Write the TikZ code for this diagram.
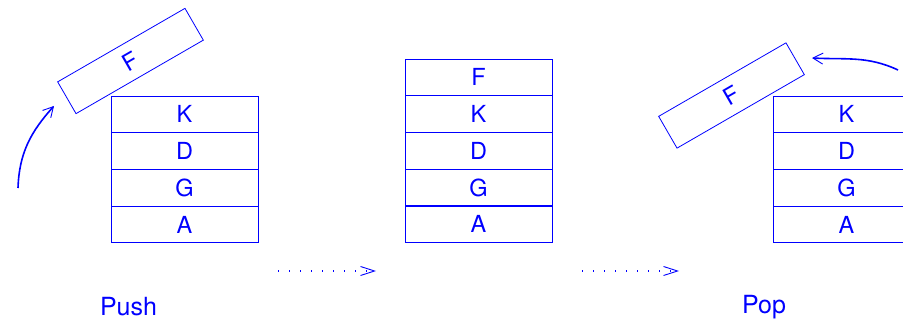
\documentclass[tikz,border=0pt]{standalone}
\usepackage{fontspec}
\setmainfont{TeX Gyre Heros}
\usetikzlibrary{arrows.meta}
\begin{document}
\begin{tikzpicture}[x=1pt,y=1pt,
  cell/.style={draw=blue,line width=0.9pt,minimum width=147pt,minimum height=36.7pt,inner sep=0pt,text=blue,font=\fontsize{23.5}{26}\selectfont},
  tilt/.style={cell,rotate=30,line width=0.8pt},
  bendarrow/.style={draw=blue,line width=1.6pt,-{Straight Barb[length=10pt,width=11pt,line width=0.9pt]}},
  dotarrow/.style={draw=blue,line width=1.4pt,dash pattern=on 1.4pt off 9.6pt,-{Straight Barb[length=14pt,width=9pt,line width=0.9pt]}},
  lbl/.style={text=blue,font=\fontsize{25}{28}\selectfont}]
\useasboundingbox (0,0) rectangle (903,321);
\clip (0,0) rectangle (903,321);
% left stack
\node[cell] (lK) at (184.5,206.6) {K};
\node[cell] (lD) at (184.5,169.9) {D};
\node[cell] (lG) at (184.5,133.1) {G};
\node[cell] (lA) at (184.5,96.4) {A};
\node[tilt] (lF) at (130.5,260) {F};
% middle stack
\node[cell] (mF) at (478.5,243.6) {F};
\node[cell] (mK) at (478.5,206.9) {K};
\node[cell] (mD) at (478.5,170.1) {D};
\node[cell] (mG) at (478.5,133.4) {G};
\node[cell] (mA) at (478.5,96.6) {A};
% right stack
\node[cell] (rK) at (846.5,206.6) {K};
\node[cell] (rD) at (846.5,169.9) {D};
\node[cell] (rG) at (846.5,133.1) {G};
\node[cell] (rA) at (846.5,96.4) {A};
\node[tilt] (rF) at (731.5,225.5) {F};
% curved arrows
\coordinate (pushS) at (18,133);
\coordinate (pushE) at (54,215);
\draw[bendarrow] (pushS) to[out=88,in=228] (pushE);
\coordinate (popS) at (898,251);
\coordinate (popE) at (812,263);
\draw[bendarrow] (popS) to[out=155,in=-3] (popE);
% dotted arrows
\coordinate (d1s) at (278,50);
\coordinate (d1e) at (376,50);
\coordinate (d2s) at (582,50);
\coordinate (d2e) at (679,50);
\draw[dotarrow] (d1s) -- (d1e);
\draw[dotarrow] (d2s) -- (d2e);
% labels
\node[lbl] (push) at (128.5,14) {Push};
\node[lbl] (pop) at (764,14) {Pop};
\end{tikzpicture}
\end{document}
